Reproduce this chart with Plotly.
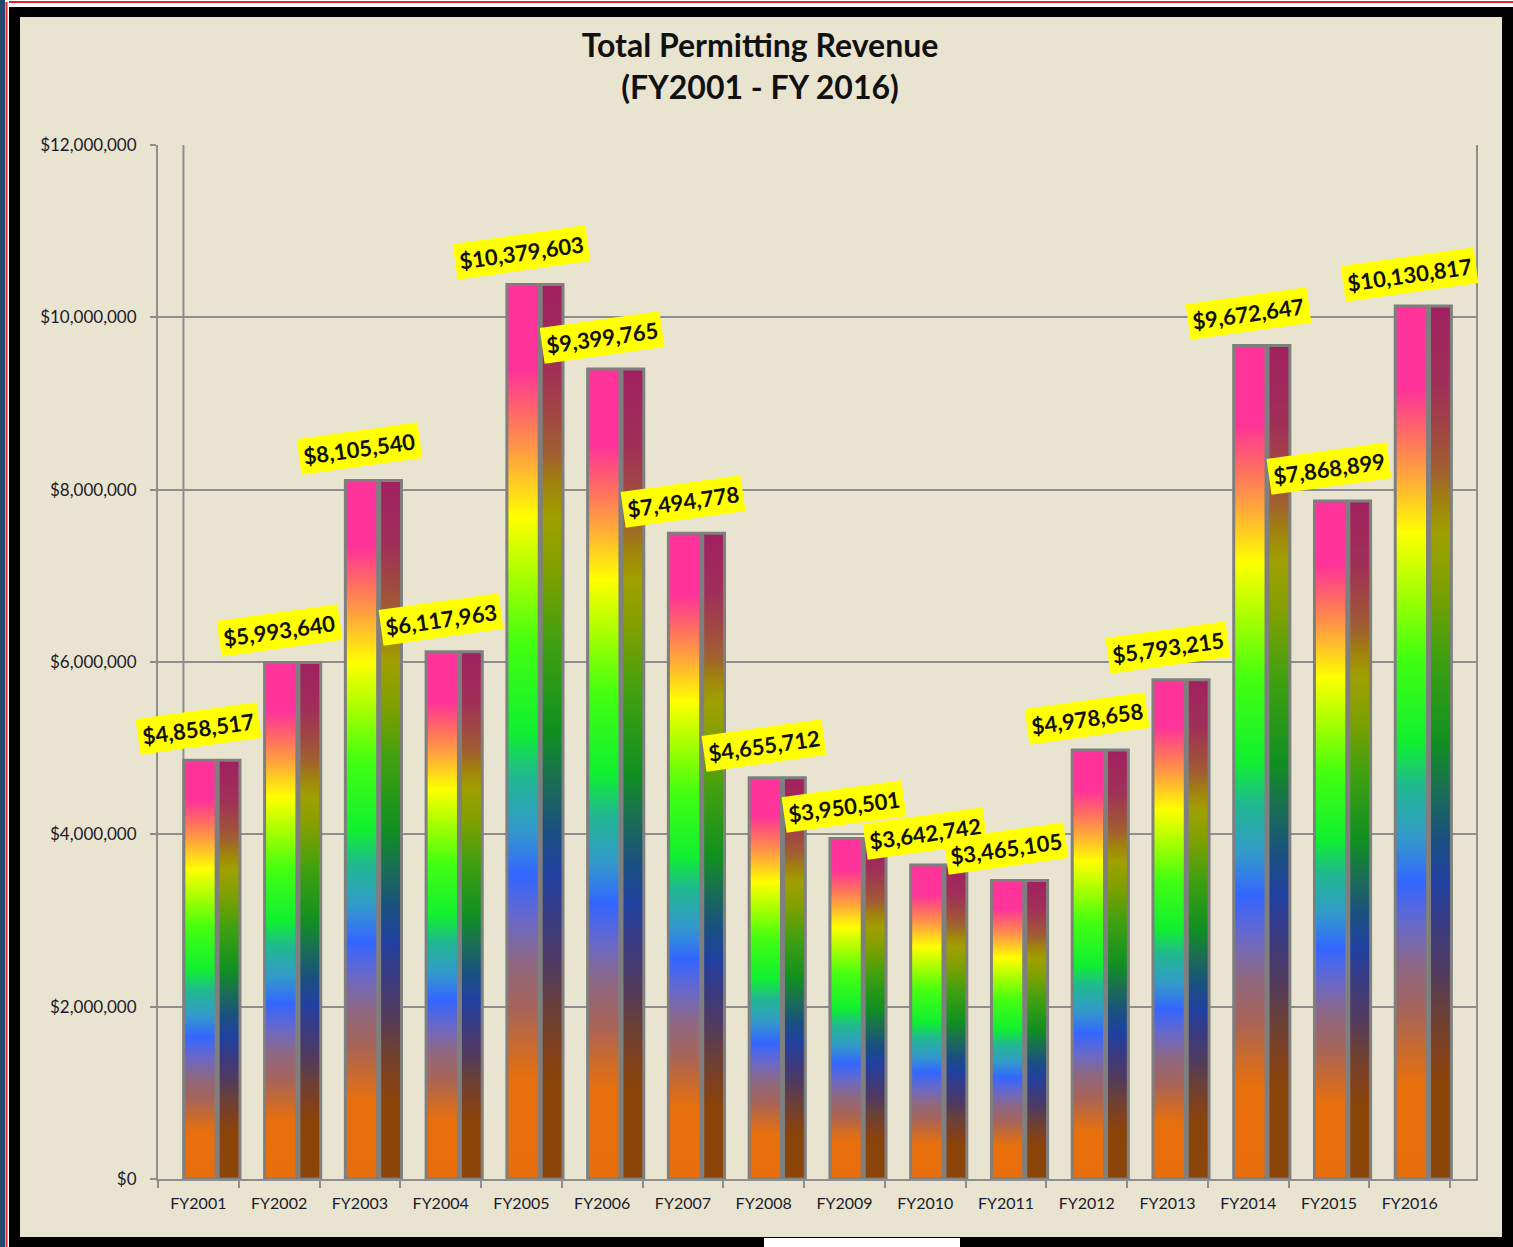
import plotly.graph_objects as go

categories = ["FY2001", "FY2002", "FY2003", "FY2004", "FY2005", "FY2006", "FY2007", "FY2008",
              "FY2009", "FY2010", "FY2011", "FY2012", "FY2013", "FY2014", "FY2015", "FY2016"]
revenue = [4858517, 5993640, 8105540, 6117963, 10379603, 9399765, 7494778, 4655712,
           3950501, 3642742, 3465105, 4978658, 5793215, 9672647, 7868899, 10130817]
y_ticks = [0, 2000000, 4000000, 6000000, 8000000, 10000000, 12000000]
y_tick_labels = ["${:,}".format(v) for v in y_ticks]

W, H = 1513, 1247
L, R, T, B = 158, 37, 145, 68
PW, PH = W - L - R, H - T - B

def px(x):
    return (x - L) / PW

def py(y):
    return (H - B - y) / PH

BEIGE = "#E9E4D0"
GRID = "#8E8E8E"

light_scale = [[0.0, "#E86E0C"], [0.11, "#E8700C"], [0.15, "#C86A30"], [0.19, "#A86458"],
               [0.24, "#906880"], [0.29, "#6A68C8"], [0.34, "#3366FF"], [0.39, "#3399CC"],
               [0.45, "#20B890"], [0.50, "#10F030"], [0.60, "#44FF10"], [0.68, "#B0FF00"],
               [0.74, "#FFFF00"], [0.81, "#FFA040"], [0.85, "#FF7060"], [0.905, "#FF3399"],
               [1.0, "#FF3399"]]
dark_scale = [[0.0, "#8B4508"], [0.11, "#8B4408"], [0.15, "#7E4020"], [0.19, "#6A4038"],
              [0.24, "#503A60"], [0.29, "#3A3A80"], [0.34, "#2040A0"], [0.39, "#1A5080"],
              [0.45, "#1A7050"], [0.50, "#109020"], [0.60, "#40A010"], [0.68, "#80A000"],
              [0.74, "#A0A000"], [0.78, "#A08010"], [0.81, "#A06030"], [0.85, "#A04A40"],
              [0.905, "#A03058"], [1.0, "#A0205F"]]

fig = go.Figure()

faces = [(-0.18, 0.22, light_scale), (0.245, 0.515, dark_scale)]
for i, v in enumerate(revenue):
    for x0, x1, scale in faces:
        fig.add_trace(go.Scatter(
            x=[i + x0, i + x0, i + x1, i + x1, i + x0],
            y=[0, v, v, 0, 0],
            mode="lines", fill="toself",
            fillgradient=dict(type="vertical", colorscale=scale),
            line=dict(color="#7F7F7F", width=3),
            hoverinfo="skip", showlegend=False,
        ))

annotations = []
for i, v in enumerate(revenue):
    annotations.append(dict(
        x=i, y=v, xref="x", yref="y", text="<b>${:,}</b>".format(v),
        showarrow=False, textangle=-8, xshift=0, yshift=32,
        bgcolor="#FFFF00", borderpad=4,
        font=dict(family="Lato", size=22, color="#111111"),
    ))

shapes = [
    dict(type="rect", xref="paper", yref="paper", x0=px(20), x1=px(1502), y0=py(1237), y1=py(17),
         fillcolor=BEIGE, line=dict(width=0), layer="below"),
    dict(type="line", xref="x", yref="y", x0=-0.185, x1=-0.185, y0=0, y1=12000000,
         line=dict(color=GRID, width=2), layer="below"),
    dict(type="rect", xref="paper", yref="paper", x0=px(0), x1=px(W), y0=py(7), y1=py(0),
         fillcolor="#FFFFFF", line=dict(width=0)),
    dict(type="line", xref="paper", yref="paper", x0=px(6), x1=px(W), y0=py(2), y1=py(2),
         line=dict(color="#E8202A", width=2)),
    dict(type="rect", xref="paper", yref="paper", x0=px(0), x1=px(9), y0=py(H), y1=py(0),
         fillcolor="#FFFFFF", line=dict(width=0)),
    dict(type="rect", xref="paper", yref="paper", x0=px(0), x1=px(5), y0=py(H), y1=py(0),
         fillcolor="#24466E", line=dict(width=0)),
    dict(type="line", xref="paper", yref="paper", x0=px(6.5), x1=px(6.5), y0=py(H), y1=py(2),
         line=dict(color="#E8202A", width=2)),
    dict(type="rect", xref="paper", yref="paper", x0=px(764), x1=px(960), y0=py(H), y1=py(1238),
         fillcolor="#FFFFFF", line=dict(width=0)),
]

fig.update_layout(
    width=W, height=H,
    margin=dict(l=L, r=R, t=T, b=B, autoexpand=False),
    paper_bgcolor="#000000",
    plot_bgcolor=BEIGE,
    showlegend=False,
    title=dict(
        text="<b>Total Permitting Revenue<br>(FY2001 - FY 2016)</b>",
        x=760 / W, xanchor="center", xref="container",
        y=1 - 57 / H, yanchor="top", yref="container",
        font=dict(family="Lato", size=32, color="#111111"),
    ),
    xaxis=dict(
        range=[-0.5, 15.82],
        tickmode="array", tickvals=list(range(len(categories))), ticktext=categories,
        ticks="", showgrid=False, zeroline=False,
        showline=True, linecolor=GRID, linewidth=2,
        tickfont=dict(family="Lato", size=16, color="#1A1A2A"),
        ticklabelstandoff=9,
        minor=dict(ticks="outside", tick0=-0.5, dtick=1, ticklen=7, tickcolor=GRID, tickwidth=2,
                   showgrid=False),
        fixedrange=True,
    ),
    yaxis=dict(
        range=[0, 12000000], tickmode="array", tickvals=y_ticks, ticktext=y_tick_labels,
        ticks="outside", ticklen=6, tickcolor=GRID, tickwidth=2,
        showgrid=True, gridcolor=GRID, gridwidth=2,
        zeroline=False, showline=True, linecolor=GRID, linewidth=2, mirror=True,
        tickfont=dict(family="Lato", size=17, color="#1A1A2A"),
        ticklabelstandoff=10,
        fixedrange=True,
    ),
    shapes=shapes,
    annotations=annotations,
)

fig.write_html("out.html")
